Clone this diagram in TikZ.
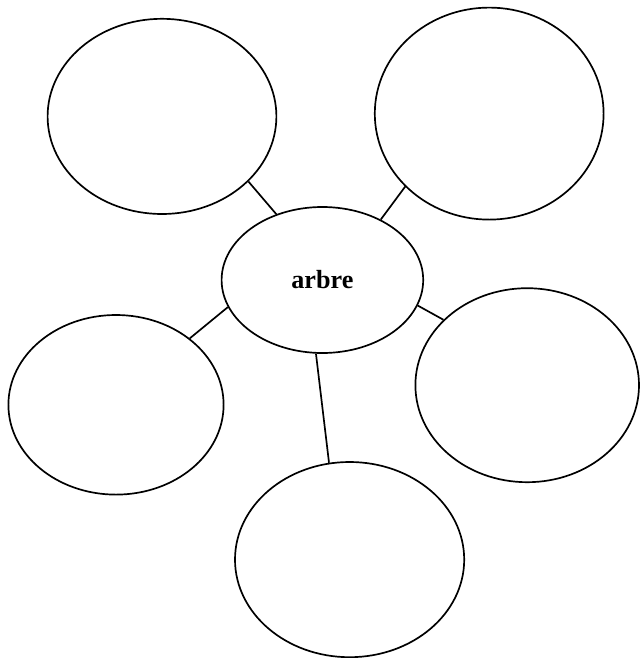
\documentclass[tikz,border=0pt]{standalone}
\usepackage{fontspec}
\setmainfont{Liberation Serif}
\usetikzlibrary{shapes.geometric}
\begin{document}
\begin{tikzpicture}[line width=1.2pt,
  bubble/.style={draw,ellipse,inner sep=0pt}]
\useasboundingbox (0,0) rectangle (16,-16.45);

\node[bubble,minimum width=5.04cm,minimum height=3.65cm,font=\fontsize{18.6}{22}\selectfont\bfseries] (arbre) at (8.06,-7.00) {arbre};

\node[bubble,minimum width=5.72cm,minimum height=4.88cm] (topleft) at (4.05,-2.91) {};
\node[bubble,minimum width=5.72cm,minimum height=5.30cm] (topright) at (12.23,-2.84) {};
\node[bubble,minimum width=5.38cm,minimum height=4.49cm] (left) at (2.90,-10.12) {};
\node[bubble,minimum width=5.59cm,minimum height=4.85cm] (right) at (13.18,-9.63) {};
\node[bubble,minimum width=5.73cm,minimum height=4.88cm] (bottom) at (8.74,-13.99) {};

\draw (topleft.323.6)--(arbre.125.2);
\draw (topright.221.8)--(arbre.46.6);
\draw (left.42.2)--(arbre.196.7);
\draw (arbre.345.6)--(right.142.2);
\draw (arbre.265.2)--(bottom.102.5);
\end{tikzpicture}
\end{document}
